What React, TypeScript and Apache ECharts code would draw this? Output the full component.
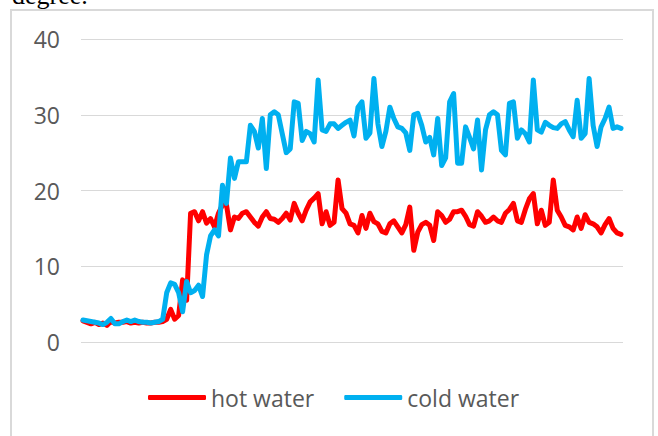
import React, { useEffect, useRef } from "react";
import * as echarts from "echarts";

const seriesNames = ["hot water", "cold water"];

const hotWater = [
  2.8, 2.6, 2.4, 2.6, 2.3, 2.5, 2.2, 2.7, 2.5, 2.6,
  2.6, 2.7, 2.5, 2.6, 2.5, 2.6, 2.5, 2.5, 2.6, 2.6,
  2.7, 3.0, 4.3, 3.0, 3.5, 8.2, 5.5, 17.0, 17.2, 16.0,
  17.2, 15.7, 16.3, 15.2, 17.0, 18.1, 18.1, 14.8, 16.5, 16.3,
  17.0, 17.2, 16.5, 15.8, 15.3, 16.5, 17.2, 16.3, 16.2, 15.8,
  16.3, 17.0, 16.1, 18.3, 17.0, 16.0, 17.4, 18.5, 19.0, 19.6,
  15.6, 17.2, 15.4, 15.8, 21.4, 17.6, 17.0, 15.6, 15.4, 14.4,
  16.7, 15.0, 17.0, 15.9, 15.6, 14.6, 14.4, 15.6, 16.0, 15.2,
  14.4, 15.5, 17.8, 12.1, 14.5, 15.5, 15.8, 15.4, 13.4, 17.2,
  16.7, 15.8, 16.2, 17.2, 17.2, 17.4, 16.6, 15.5, 15.3, 17.2,
  16.6, 15.8, 16.0, 16.5, 16.0, 15.8, 17.0, 17.5, 18.3, 16.0,
  15.8, 17.5, 18.9, 19.6, 15.6, 17.4, 15.4, 15.8, 21.4, 17.4,
  16.5, 15.4, 15.2, 14.8, 16.5, 15.0, 16.8, 15.8, 15.6, 15.2,
  14.4, 15.5, 16.3, 15.0, 14.4, 14.2,
];

const coldWater = [
  2.9, 2.8, 2.7, 2.6, 2.5, 2.3, 2.6, 3.1, 2.4, 2.4,
  2.7, 2.9, 2.7, 2.9, 2.7, 2.6, 2.6, 2.5, 2.6, 2.7,
  3.0, 6.5, 7.8, 7.6, 6.5, 4.0, 8.0, 6.5, 6.8, 7.5,
  6.0, 11.5, 14.0, 14.8, 14.0, 20.7, 18.3, 24.3, 21.6, 23.8,
  23.8, 23.8, 28.6, 27.8, 25.6, 29.5, 22.9, 30.0, 30.4, 30.0,
  27.5, 25.0, 25.5, 31.7, 31.5, 26.6, 27.8, 27.5, 26.4, 34.6,
  28.0, 27.8, 28.8, 28.8, 28.2, 28.6, 29.0, 29.3, 27.2, 31.0,
  31.7, 26.9, 27.6, 34.8, 28.8, 25.8, 27.8, 31.0, 29.5, 28.4,
  28.2, 27.6, 25.3, 30.0, 30.2, 28.6, 26.4, 27.0, 24.7, 29.5,
  23.3, 24.3, 31.7, 32.8, 23.6, 23.6, 28.4, 27.0, 25.5, 29.3,
  22.7, 28.0, 30.0, 30.4, 30.0, 25.3, 24.7, 31.5, 31.7, 26.9,
  28.0, 27.5, 26.4, 34.6, 28.0, 27.7, 29.0, 28.6, 28.3, 28.2,
  28.8, 29.1, 28.0, 27.1, 31.9, 26.9, 27.5, 34.8, 28.6, 25.8,
  28.4, 29.5, 31.0, 28.2, 28.4, 28.2,
];

const categories = hotWater.map((_, i) => String(i + 1));

const yMin = 0;
const yMax = 40;
const yInterval = 10;

const captionText = "degree.";

export default function App() {
  const ref = useRef<HTMLDivElement>(null);

  useEffect(() => {
    if (!ref.current) return;
    const chart = echarts.init(ref.current, undefined, { renderer: "svg" });
    const font = "'Open Sans', 'Noto Sans', sans-serif";
    chart.setOption({
      animation: false,
      backgroundColor: "#ffffff",
      graphic: [
        {
          type: "rect",
          shape: { x: 11, y: 10, width: 642, height: 440 },
          style: { fill: "none", stroke: "#d9d9d9", lineWidth: 2 },
          silent: true,
        },
        {
          type: "text",
          x: 12,
          y: -5,
          style: {
            text: captionText,
            font: "26px 'Liberation Serif', 'Times New Roman', serif",
            fill: "#000000",
            verticalAlign: "middle",
            align: "left",
          },
          silent: true,
        },
      ],
      legend: {
        data: seriesNames,
        left: 148,
        top: 386,
        padding: 0,
        icon: "roundRect",
        itemWidth: 58,
        itemHeight: 5,
        itemGap: 30,
        textStyle: { fontFamily: font, fontSize: 23, color: "#595959" },
      },
      grid: { left: 81, right: 35, top: 39, bottom: 94, containLabel: false },
      xAxis: {
        type: "category",
        data: categories,
        boundaryGap: true,
        axisLine: { show: false },
        axisTick: { show: false },
        axisLabel: { show: false },
        splitLine: { show: false },
      },
      yAxis: {
        type: "value",
        min: yMin,
        max: yMax,
        interval: yInterval,
        axisLine: { show: false },
        axisTick: { show: false },
        axisLabel: {
          fontFamily: font,
          fontSize: 23,
          color: "#595959",
          margin: 21,
        },
        splitLine: { lineStyle: { color: "#d9d9d9", width: 1 } },
      },
      series: [
        {
          name: seriesNames[0],
          type: "line",
          data: hotWater,
          symbol: "none",
          smooth: false,
          color: "#ff0000",
          lineStyle: { color: "#ff0000", width: 5, cap: "round", join: "round" },
        },
        {
          name: seriesNames[1],
          type: "line",
          data: coldWater,
          symbol: "none",
          smooth: false,
          color: "#00b0f0",
          lineStyle: { color: "#00b0f0", width: 5, cap: "round", join: "round" },
        },
      ],
    });
    return () => chart.dispose();
  }, []);

  return (
    <div
      ref={ref}
      style={{ position: "fixed", left: 0, top: 0, width: 658, height: 436 }}
    />
  );
}
